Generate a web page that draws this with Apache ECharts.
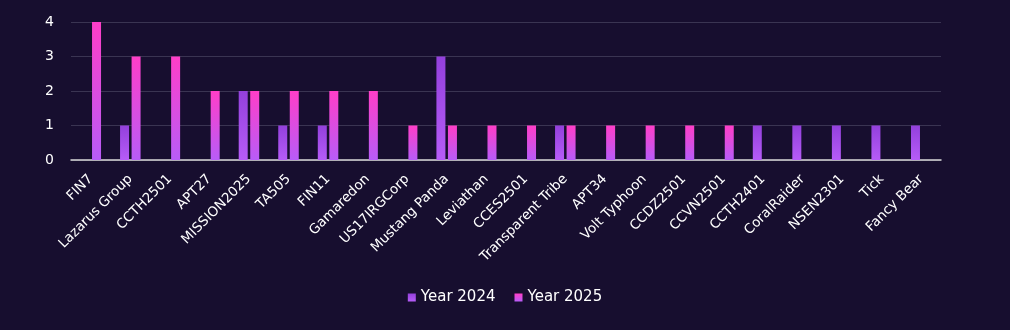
<!DOCTYPE html>
<html><head><meta charset="utf-8">
<script src="https://cdn.jsdelivr.net/npm/echarts@6/dist/echarts.min.js"></script>
<style>html,body{margin:0;padding:0;background:#170e2f;}#c{width:1010px;height:330px;}</style>
</head><body><div id="c"></div>
<script>
var categories = ["FIN7","Lazarus Group","CCTH2501","APT27","MISSION2025","TA505","FIN11","Gamaredon","US17IRGCorp","Mustang Panda","Leviathan","CCES2501","Transparent Tribe","APT34","Volt Typhoon","CCDZ2501","CCVN2501","CCTH2401","CoralRaider","NSEN2301","Tick","Fancy Bear"];
var year2024 = [0,1,0,0,2,1,1,0,0,3,0,0,1,0,0,0,0,1,1,1,1,1];
var year2025 = [4,3,3,2,2,2,2,2,1,1,1,1,1,1,1,1,1,0,0,0,0,0];
var yTicks = [0,1,2,3,4];

var font = "'DejaVu Sans', sans-serif";
function grad(top, bottom){
  return new echarts.graphic.LinearGradient(0,0,0,1,[{offset:0,color:top},{offset:1,color:bottom}]);
}
var chart = echarts.init(document.getElementById('c'));
chart.setOption({
  backgroundColor:'#170e2f',
  animation:false,
  grid:{left:71,right:69,top:22,bottom:170},
  legend:{
    bottom:20, left:'center', itemWidth:8, itemHeight:8, itemGap:19,
    icon:'rect',
    textStyle:{color:'#ffffff',fontSize:15,fontFamily:font},
    data:['Year 2024','Year 2025']
  },
  xAxis:{
    type:'category', data:categories,
    axisLine:{lineStyle:{color:'#d9d9d9',width:1.5}},
    axisTick:{show:false},
    axisLabel:{color:'#ffffff',fontSize:13.5,fontFamily:font,rotate:45,interval:0,margin:17}
  },
  yAxis:{
    type:'value', min:0, max:yTicks[yTicks.length-1], interval:1,
    axisLine:{show:false}, axisTick:{show:false},
    axisLabel:{color:'#ffffff',fontSize:14,fontFamily:font,margin:17},
    splitLine:{lineStyle:{color:'#3a3452',width:1.2}}
  },
  series:[
    {name:'Year 2024',type:'bar',data:year2024,barWidth:9,barGap:'28%',
     itemStyle:{color:grad('#9340dc','#b65cf8')}},
    {name:'Year 2025',type:'bar',data:year2025,barWidth:9,barGap:'28%',
     itemStyle:{color:grad('#ff3ec8','#b85cf8')}}
  ]
});
</script></body></html>
